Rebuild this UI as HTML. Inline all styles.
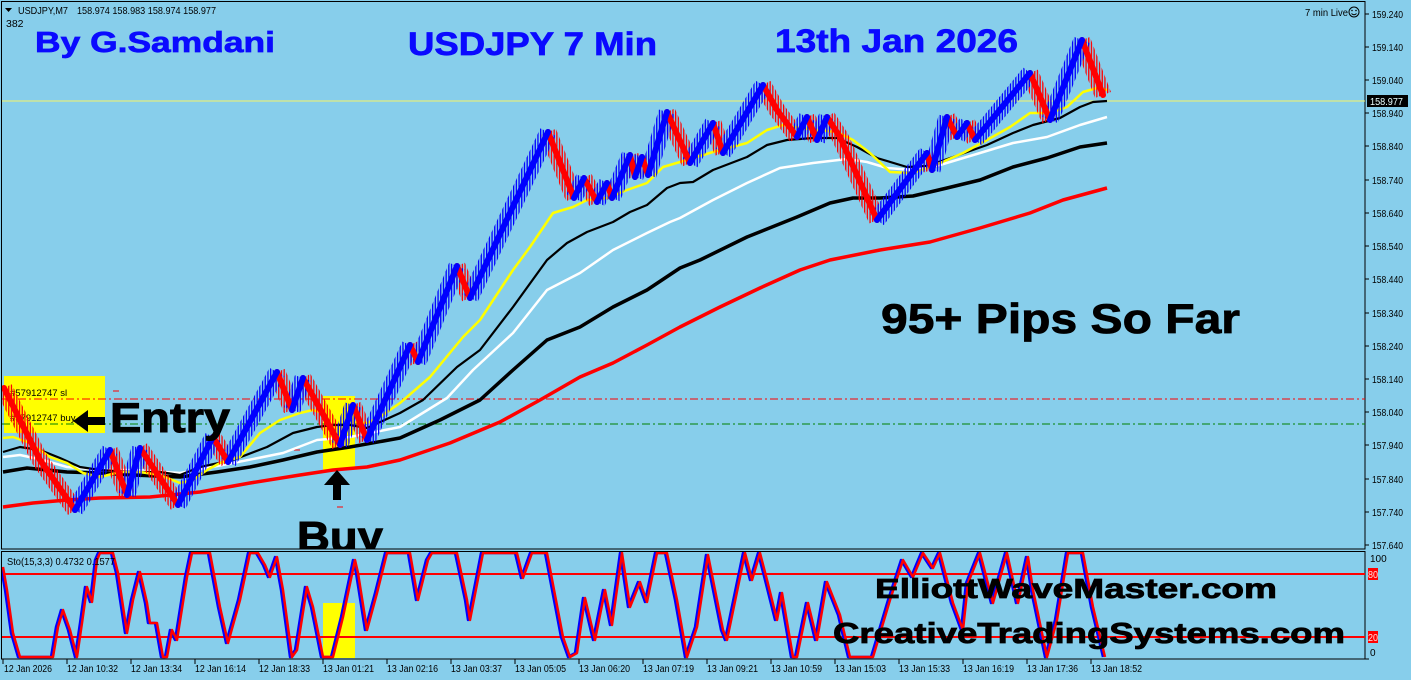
<!DOCTYPE html>
<html><head><meta charset="utf-8">
<style>
html,body{margin:0;padding:0;background:#87CEEB;}
svg{display:block;}
text{font-family:"Liberation Sans",Arial,sans-serif;}
.ax{font-size:10px;fill:#000;}
.big{font-weight:bold;}
</style></head>
<body>
<svg width="1411" height="680" viewBox="0 0 1411 680" xmlns="http://www.w3.org/2000/svg" xmlns:xlink="http://www.w3.org/1999/xlink">
<defs>
<clipPath id="mainclip"><rect x="2" y="2" width="1363" height="547"/></clipPath>
<clipPath id="stoclip"><rect x="2" y="552" width="1363" height="107"/></clipPath>
<pattern id="pb" patternUnits="userSpaceOnUse" width="2.7" height="4"><rect x="0" y="0" width="1.3" height="4" fill="#0000ff"/></pattern>
<pattern id="pr" patternUnits="userSpaceOnUse" width="2.7" height="4"><rect x="0" y="0" width="1.3" height="4" fill="#ff0000"/></pattern>
<path id="zr" d="M4,388 L40,460 L75,510 M110,450 L127,495 M140,448 L178,505 M213,437 L228,462 M277,372 L292,410 M303,378 L340,445 M353,405 L367,440 M410,345 L418,362 M457,266 L470,298 M548,132 L574,198 M584,178 L597,202 M607,183 L612,198 M630,155 L635,177 M642,157 L648,175 M667,112 L690,163 M713,123 L723,153 M763,85 L777,110 L797,137 M807,117 L817,140 M827,117 L840,137 L877,220 M927,153 L932,170 M947,117 L957,137 M967,123 L975,140 M1030,73 L1050,120 M1082,40 L1103,95"/>
<path id="zb" d="M75,510 L110,450 M127,495 L140,448 M178,505 L213,437 M228,462 L277,372 M292,410 L303,378 M340,445 L353,405 M367,440 L410,345 M418,362 L457,266 M470,298 L548,132 M574,198 L584,178 M597,202 L607,183 M612,198 L630,155 M635,177 L642,157 M648,175 L667,112 M690,163 L713,123 M723,153 L763,85 M797,137 L807,117 M817,140 L827,117 M877,220 L927,153 M932,170 L947,117 M957,137 L967,123 M975,140 L1030,73 M1050,120 L1082,40"/>
</defs>
<rect x="0" y="0" width="1411" height="680" fill="#87CEEB"/>

<!-- frames -->
<rect x="1.5" y="1.5" width="1363.5" height="547.5" fill="none" stroke="#000" stroke-width="1"/>
<rect x="1.5" y="551.5" width="1363.5" height="107.5" fill="none" stroke="#000" stroke-width="1"/>

<!-- price axis -->
<g stroke="#000" stroke-width="1">
<line x1="1365" y1="14" x2="1369" y2="14"/><line x1="1365" y1="47" x2="1369" y2="47"/><line x1="1365" y1="80" x2="1369" y2="80"/><line x1="1365" y1="113" x2="1369" y2="113"/><line x1="1365" y1="146" x2="1369" y2="146"/><line x1="1365" y1="180" x2="1369" y2="180"/><line x1="1365" y1="213" x2="1369" y2="213"/><line x1="1365" y1="246" x2="1369" y2="246"/><line x1="1365" y1="279" x2="1369" y2="279"/><line x1="1365" y1="313" x2="1369" y2="313"/><line x1="1365" y1="346" x2="1369" y2="346"/><line x1="1365" y1="379" x2="1369" y2="379"/><line x1="1365" y1="412" x2="1369" y2="412"/><line x1="1365" y1="445" x2="1369" y2="445"/><line x1="1365" y1="479" x2="1369" y2="479"/><line x1="1365" y1="512" x2="1369" y2="512"/><line x1="1365" y1="545" x2="1369" y2="545"/>
</g>
<g class="ax">
<text x="1372" y="18" textLength="31" lengthAdjust="spacingAndGlyphs">159.240</text>
<text x="1372" y="51" textLength="31" lengthAdjust="spacingAndGlyphs">159.140</text>
<text x="1372" y="84" textLength="31" lengthAdjust="spacingAndGlyphs">159.040</text>
<text x="1372" y="117" textLength="31" lengthAdjust="spacingAndGlyphs">158.940</text>
<text x="1372" y="150" textLength="31" lengthAdjust="spacingAndGlyphs">158.840</text>
<text x="1372" y="184" textLength="31" lengthAdjust="spacingAndGlyphs">158.740</text>
<text x="1372" y="217" textLength="31" lengthAdjust="spacingAndGlyphs">158.640</text>
<text x="1372" y="250" textLength="31" lengthAdjust="spacingAndGlyphs">158.540</text>
<text x="1372" y="283" textLength="31" lengthAdjust="spacingAndGlyphs">158.440</text>
<text x="1372" y="317" textLength="31" lengthAdjust="spacingAndGlyphs">158.340</text>
<text x="1372" y="350" textLength="31" lengthAdjust="spacingAndGlyphs">158.240</text>
<text x="1372" y="383" textLength="31" lengthAdjust="spacingAndGlyphs">158.140</text>
<text x="1372" y="416" textLength="31" lengthAdjust="spacingAndGlyphs">158.040</text>
<text x="1372" y="449" textLength="31" lengthAdjust="spacingAndGlyphs">157.940</text>
<text x="1372" y="483" textLength="31" lengthAdjust="spacingAndGlyphs">157.840</text>
<text x="1372" y="516" textLength="31" lengthAdjust="spacingAndGlyphs">157.740</text>
<text x="1372" y="549" textLength="31" lengthAdjust="spacingAndGlyphs">157.640</text>
</g>
<rect x="1367" y="95" width="41" height="12" fill="#000"/>
<text x="1370" y="105" class="ax" style="fill:#eaffff" textLength="33" lengthAdjust="spacingAndGlyphs">158.977</text>

<!-- stochastic axis -->
<text x="1370" y="562" class="ax">100</text>
<text x="1370" y="656" class="ax">0</text>
<rect x="1368" y="568" width="10" height="12" fill="#ff0000"/>
<text x="1368" y="578" class="ax" style="fill:#ffe0e0" textLength="10" lengthAdjust="spacingAndGlyphs">80</text>
<rect x="1368" y="631" width="10" height="12" fill="#ff0000"/>
<text x="1368" y="641" class="ax" style="fill:#ffe0e0" textLength="10" lengthAdjust="spacingAndGlyphs">20</text>
<line x1="1365" y1="659" x2="1369" y2="659" stroke="#000"/>

<!-- time axis -->
<g stroke="#000" stroke-width="1">
<line x1="3" y1="659" x2="3" y2="664"/><line x1="67" y1="659" x2="67" y2="664"/><line x1="131" y1="659" x2="131" y2="664"/><line x1="195" y1="659" x2="195" y2="664"/><line x1="259" y1="659" x2="259" y2="664"/><line x1="323" y1="659" x2="323" y2="664"/><line x1="387" y1="659" x2="387" y2="664"/><line x1="451" y1="659" x2="451" y2="664"/><line x1="515" y1="659" x2="515" y2="664"/><line x1="579" y1="659" x2="579" y2="664"/><line x1="643" y1="659" x2="643" y2="664"/><line x1="707" y1="659" x2="707" y2="664"/><line x1="771" y1="659" x2="771" y2="664"/><line x1="835" y1="659" x2="835" y2="664"/><line x1="899" y1="659" x2="899" y2="664"/><line x1="963" y1="659" x2="963" y2="664"/><line x1="1027" y1="659" x2="1027" y2="664"/><line x1="1091" y1="659" x2="1091" y2="664"/>
</g>
<g class="ax">
<text x="4" y="672" textLength="48" lengthAdjust="spacingAndGlyphs">12 Jan 2026</text>
<text x="67" y="672" textLength="51" lengthAdjust="spacingAndGlyphs">12 Jan 10:32</text>
<text x="131" y="672" textLength="51" lengthAdjust="spacingAndGlyphs">12 Jan 13:34</text>
<text x="195" y="672" textLength="51" lengthAdjust="spacingAndGlyphs">12 Jan 16:14</text>
<text x="259" y="672" textLength="51" lengthAdjust="spacingAndGlyphs">12 Jan 18:33</text>
<text x="323" y="672" textLength="51" lengthAdjust="spacingAndGlyphs">13 Jan 01:21</text>
<text x="387" y="672" textLength="51" lengthAdjust="spacingAndGlyphs">13 Jan 02:16</text>
<text x="451" y="672" textLength="51" lengthAdjust="spacingAndGlyphs">13 Jan 03:37</text>
<text x="515" y="672" textLength="51" lengthAdjust="spacingAndGlyphs">13 Jan 05:05</text>
<text x="579" y="672" textLength="51" lengthAdjust="spacingAndGlyphs">13 Jan 06:20</text>
<text x="643" y="672" textLength="51" lengthAdjust="spacingAndGlyphs">13 Jan 07:19</text>
<text x="707" y="672" textLength="51" lengthAdjust="spacingAndGlyphs">13 Jan 09:21</text>
<text x="771" y="672" textLength="51" lengthAdjust="spacingAndGlyphs">13 Jan 10:59</text>
<text x="835" y="672" textLength="51" lengthAdjust="spacingAndGlyphs">13 Jan 15:03</text>
<text x="899" y="672" textLength="51" lengthAdjust="spacingAndGlyphs">13 Jan 15:33</text>
<text x="963" y="672" textLength="51" lengthAdjust="spacingAndGlyphs">13 Jan 16:19</text>
<text x="1027" y="672" textLength="51" lengthAdjust="spacingAndGlyphs">13 Jan 17:36</text>
<text x="1091" y="672" textLength="51" lengthAdjust="spacingAndGlyphs">13 Jan 18:52</text>
</g>

<!-- MAIN PANEL -->
<g clip-path="url(#mainclip)">
  <rect x="4" y="376" width="101" height="57" fill="#ffff00"/>
  <rect x="323" y="396" width="32" height="74" fill="#ffff00"/>
  <line x1="2" y1="101" x2="1365" y2="101" stroke="#f4f46a" stroke-width="1"/>
  <line x1="2" y1="399" x2="1365" y2="399" stroke="#ff0000" stroke-width="1" stroke-dasharray="8,3,2,3"/>
  <line x1="2" y1="424" x2="1365" y2="424" stroke="#008000" stroke-width="1" stroke-dasharray="8,3,2,3"/>
  <text x="10" y="396" style="font-size:9.5px" fill="#000">#57912747 sl</text>
  <text x="10" y="421" style="font-size:9.5px" fill="#000">#57912747 buy</text>
  <line x1="113" y1="391" x2="119" y2="391" stroke="#ff0000"/>
  <line x1="294" y1="450" x2="300" y2="450" stroke="#ff0000"/>
  <line x1="337" y1="507" x2="343" y2="507" stroke="#ff0000"/>

  <!-- moving averages -->
  <polyline fill="none" stroke="#ff0000" stroke-width="3.5" stroke-linejoin="round" points="3,507 33,503 67,500 100,498 150,497 200,492 250,483 300,475 333,470 367,467 400,460 450,443 500,422 540,400 580,377 613,363 647,345 680,327 720,307 760,288 800,270 830,260 880,250 930,242 980,228 1030,213 1063,200 1107,188"/>
  <polyline fill="none" stroke="#000" stroke-width="3.5" stroke-linejoin="round" points="3,472 27,468 67,472 100,473 133,475 180,477 217,472 250,467 283,460 317,452 350,447 400,438 440,420 480,400 513,370 547,340 580,327 613,307 647,290 680,268 700,260 747,237 797,217 830,203 853,198 880,198 913,196 947,188 980,180 1013,167 1047,158 1080,147 1107,143"/>
  <polyline fill="none" stroke="#fff" stroke-width="2.5" stroke-linejoin="round" points="3,457 20,455 43,460 67,467 100,470 133,470 180,473 233,463 283,453 317,440 350,437 400,427 447,398 473,370 513,333 547,290 580,273 613,250 647,233 670,222 680,218 713,200 747,183 780,168 813,163 847,159 867,162 887,168 913,170 940,165 980,153 1013,143 1047,137 1080,125 1107,117"/>
  <polyline fill="none" stroke="#000" stroke-width="2.2" stroke-linejoin="round" points="3,452 20,447 40,450 60,458 80,467 100,470 133,472 160,472 180,475 200,467 233,460 267,447 293,433 317,427 333,425 350,425 367,428 400,413 423,400 457,367 480,350 513,307 547,260 567,243 587,232 613,222 630,212 647,205 667,188 680,183 693,182 713,170 747,157 767,145 787,140 813,138 837,138 857,147 877,158 907,167 927,166 953,157 987,145 1013,133 1033,125 1060,118 1080,107 1093,102 1107,101"/>
  <polyline fill="none" stroke="#ffff00" stroke-width="2.5" stroke-linejoin="round" points="3,438 13,437 30,443 50,457 67,463 83,473 100,477 120,472 140,472 160,475 180,483 193,480 207,470 220,463 240,457 260,433 280,420 300,413 313,410 323,413 337,422 350,422 367,423 380,417 400,403 407,397 430,377 463,337 480,320 513,270 530,247 553,213 573,207 587,200 607,198 627,190 647,183 663,167 680,162 713,152 747,143 767,130 783,125 800,128 817,130 837,132 853,140 870,153 890,172 913,173 940,163 963,153 987,140 1010,127 1030,113 1050,113 1067,107 1083,92 1097,88 1107,90"/>

  <!-- price bars: wick bands then bodies -->
  <use xlink:href="#zr" href="#zr" fill="none" stroke="url(#pr)" stroke-width="17" stroke-linejoin="round"/>
  <use xlink:href="#zb" href="#zb" fill="none" stroke="url(#pb)" stroke-width="17" stroke-linejoin="round"/>
  <use xlink:href="#zr" href="#zr" fill="none" stroke="#ff0000" stroke-width="6" stroke-linejoin="round" stroke-linecap="round"/>
  <use xlink:href="#zb" href="#zb" fill="none" stroke="#0000ff" stroke-width="6" stroke-linejoin="round" stroke-linecap="round"/>

  <!-- arrows -->
  <polygon points="73,421 88,410 88,417 105,417 105,425 88,425 88,432" fill="#000"/>
  <polygon points="337,470 350,485 341,485 341,500 333,500 333,485 324,485" fill="#000"/>

  <!-- big labels -->
  <text x="110" y="432" class="big" style="font-size:42px" fill="#000" stroke="#000" stroke-width="1" textLength="120" lengthAdjust="spacingAndGlyphs">Entry</text>
  <text x="297" y="551" class="big" style="font-size:42px" fill="#000" stroke="#000" stroke-width="1" textLength="86" lengthAdjust="spacingAndGlyphs">Buy</text>
  <text x="881" y="333" class="big" style="font-size:42px" fill="#000" stroke="#000" stroke-width="0.8" textLength="359" lengthAdjust="spacingAndGlyphs">95+ Pips So Far</text>
  <text x="35" y="52" class="big" style="font-size:29px" fill="#0a0aff" stroke="#0a0aff" stroke-width="0.7" textLength="240" lengthAdjust="spacingAndGlyphs">By G.Samdani</text>
  <text x="408" y="55" class="big" style="font-size:32px" fill="#0a0aff" stroke="#0a0aff" stroke-width="0.7" textLength="249" lengthAdjust="spacingAndGlyphs">USDJPY 7 Min</text>
  <text x="775" y="52" class="big" style="font-size:32px" fill="#0a0aff" stroke="#0a0aff" stroke-width="0.7" textLength="243" lengthAdjust="spacingAndGlyphs">13th Jan 2026</text>
</g>

<!-- header -->
<polygon points="5,8 12,8 8.5,12" fill="#000"/>
<text x="18" y="14" style="font-size:10.5px" fill="#000" textLength="50" lengthAdjust="spacingAndGlyphs">USDJPY,M7</text>
<text x="77" y="14" style="font-size:10.5px" fill="#000" textLength="139" lengthAdjust="spacingAndGlyphs">158.974 158.983 158.974 158.977</text>
<text x="6" y="27" style="font-size:10.5px" fill="#000">382</text>
<text x="1305" y="16" style="font-size:10.5px" fill="#000" textLength="43" lengthAdjust="spacingAndGlyphs">7 min Live</text>
<circle cx="1354" cy="12" r="5" fill="none" stroke="#000" stroke-width="1"/>
<circle cx="1352" cy="10.5" r="0.8" fill="#000"/><circle cx="1356" cy="10.5" r="0.8" fill="#000"/>
<path d="M1351.5,13.5 Q1354,16 1356.5,13.5" fill="none" stroke="#000" stroke-width="0.9"/>

<!-- STOCHASTIC PANEL -->
<g clip-path="url(#stoclip)">
  <rect x="323" y="603" width="32" height="55" fill="#ffff00"/>
  <line x1="2" y1="574" x2="1365" y2="574" stroke="#ff0000" stroke-width="2"/>
  <line x1="2" y1="637" x2="1365" y2="637" stroke="#ff0000" stroke-width="2"/>
  <polyline fill="none" stroke="#0000ff" stroke-width="2.5" stroke-linejoin="round" transform="translate(-2,0)" points="3,567 7,590 13,633 20,657 53,657 58,627 63,610 70,630 77,657 82,623 87,587 92,602 97,560 100,553 113,553 118,573 127,633 133,600 140,572 147,603 150,623 157,623 163,657 167,657 172,630 177,640 187,577 192,553 210,553 220,607 228,643 240,600 250,553 258,553 265,565 270,577 277,557 283,590 292,657 297,650 307,587 313,607 323,657 333,657 343,617 355,560 358,573 367,630 377,593 387,553 410,553 418,600 428,560 432,553 457,553 467,600 470,620 483,553 517,553 523,578 532,553 547,553 563,637 570,657 577,653 585,598 595,640 605,590 612,625 622,553 630,607 640,582 647,602 657,553 667,553 677,600 687,657 697,627 708,555 723,630 727,640 745,553 752,580 760,553 767,580 777,620 782,593 793,657 797,657 808,603 817,640 827,582 840,615 850,657 873,657 890,600 903,560 913,577 923,553 933,568 940,553 953,603 963,630 968,583 980,553 993,603 1007,553 1018,603 1028,557 1033,590 1047,657 1057,620 1068,553 1083,553 1093,607 1105,657"/>
  <polyline fill="none" stroke="#ff0000" stroke-width="2.5" stroke-linejoin="round" points="3,567 7,590 13,633 20,657 53,657 58,627 63,610 70,630 77,657 82,623 87,587 92,602 97,560 100,553 113,553 118,573 127,633 133,600 140,572 147,603 150,623 157,623 163,657 167,657 172,630 177,640 187,577 192,553 210,553 220,607 228,643 240,600 250,553 258,553 265,565 270,577 277,557 283,590 292,657 297,650 307,587 313,607 323,657 333,657 343,617 355,560 358,573 367,630 377,593 387,553 410,553 418,600 428,560 432,553 457,553 467,600 470,620 483,553 517,553 523,578 532,553 547,553 563,637 570,657 577,653 585,598 595,640 605,590 612,625 622,553 630,607 640,582 647,602 657,553 667,553 677,600 687,657 697,627 708,555 723,630 727,640 745,553 752,580 760,553 767,580 777,620 782,593 793,657 797,657 808,603 817,640 827,582 840,615 850,657 873,657 890,600 903,560 913,577 923,553 933,568 940,553 953,603 963,630 968,583 980,553 993,603 1007,553 1018,603 1028,557 1033,590 1047,657 1057,620 1068,553 1083,553 1093,607 1105,657"/>
  <text x="7" y="565" style="font-size:10.5px" fill="#000" textLength="108" lengthAdjust="spacingAndGlyphs">Sto(15,3,3) 0.4732 0.1577</text>
  <text x="875" y="598" class="big" style="font-size:28px" fill="#000" stroke="#000" stroke-width="0.8" textLength="402" lengthAdjust="spacingAndGlyphs">ElliottWaveMaster.com</text>
  <text x="833" y="643" class="big" style="font-size:29px" fill="#000" stroke="#000" stroke-width="0.8" textLength="512" lengthAdjust="spacingAndGlyphs">CreativeTradingSystems.com</text>
</g>
</svg>
</body></html>
